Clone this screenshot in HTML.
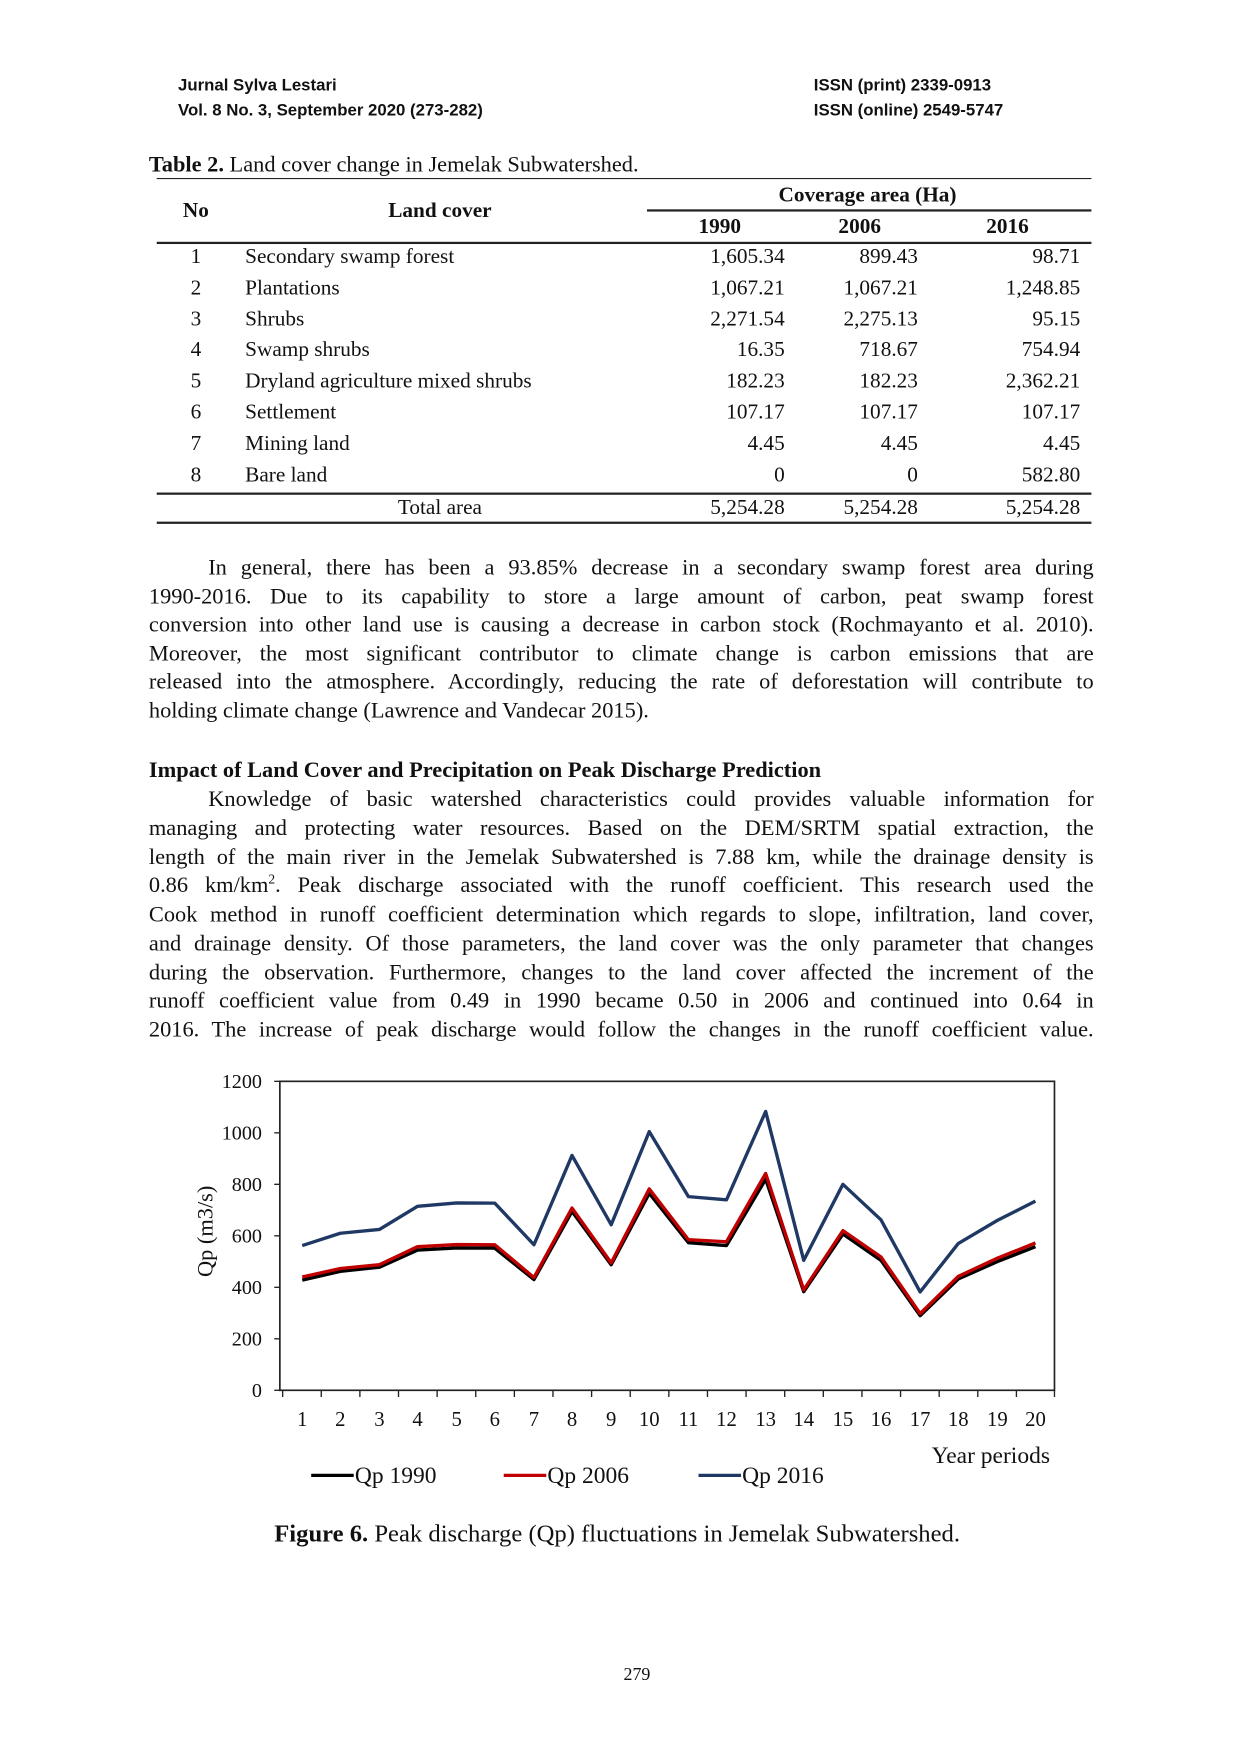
<!DOCTYPE html>
<html><head><meta charset="utf-8">
<style>
html,body{margin:0;padding:0;background:#fff;}
body{width:1240px;height:1754px;overflow:hidden;position:relative;}
#w{position:absolute;left:0;top:0;width:1108px;height:1567px;transform:scale(1.1194);transform-origin:0 0;font-family:"Liberation Serif",serif;color:#111;}
.a{position:absolute;white-space:nowrap;line-height:24px;height:24px;}
.h{font-family:"Liberation Sans",sans-serif;font-weight:bold;font-size:15px;line-height:20px;height:20px;}
.t{font-size:19px;}
.r{text-align:right;}
.c{text-align:center;}
.j{text-align:justify;text-align-last:justify;font-size:20px;left:133px;width:844px;}
.p{font-size:20px;}
.ln{position:absolute;background:#222;height:1px;}
</style></head><body><div id="w">
<div class="a h" style="left:159px;top:67px">Jurnal Sylva Lestari</div>
<div class="a h" style="left:159px;top:89px">Vol. 8 No. 3, September 2020 (273-282)</div>
<div class="a h" style="left:727px;top:67px">ISSN (print) 2339-0913</div>
<div class="a h" style="left:727px;top:89px">ISSN (online) 2549-5747</div>

<div class="a p" style="left:133px;top:135px"><b>Table 2.</b> Land cover change in Jemelak Subwatershed.</div>
<div class="ln" style="left:140px;width:835px;top:159px"></div>
<div class="ln" style="left:578px;width:397px;top:187px;height:1.5px"></div>
<div class="ln" style="left:140px;width:835px;top:216px;height:1.5px"></div>
<div class="ln" style="left:140px;width:835px;top:440px;height:2px"></div>
<div class="ln" style="left:140px;width:835px;top:466px;height:1.5px"></div>
<div class="a t" style="left:680px;width:190px;top:163px;text-align:center;font-weight:bold">Coverage area (Ha)</div>
<div class="a t" style="left:155px;width:40px;top:177px;text-align:center;font-weight:bold">No</div>
<div class="a t" style="left:293px;width:200px;top:177px;text-align:center;font-weight:bold">Land cover</div>
<div class="a t" style="left:603px;width:80px;top:191px;text-align:center;font-weight:bold">1990</div>
<div class="a t" style="left:728px;width:80px;top:191px;text-align:center;font-weight:bold">2006</div>
<div class="a t" style="left:860px;width:80px;top:191px;text-align:center;font-weight:bold">2016</div>

<div class="a t c" style="left:160px;width:30px;top:218px">1</div><div class="a t" style="left:219px;top:218px">Secondary swamp forest</div><div class="a t r" style="left:561px;width:140px;top:218px">1,605.34</div><div class="a t r" style="left:680px;width:140px;top:218px">899.43</div><div class="a t r" style="left:825px;width:140px;top:218px">98.71</div>
<div class="a t c" style="left:160px;width:30px;top:246px">2</div><div class="a t" style="left:219px;top:246px">Plantations</div><div class="a t r" style="left:561px;width:140px;top:246px">1,067.21</div><div class="a t r" style="left:680px;width:140px;top:246px">1,067.21</div><div class="a t r" style="left:825px;width:140px;top:246px">1,248.85</div>
<div class="a t c" style="left:160px;width:30px;top:274px">3</div><div class="a t" style="left:219px;top:274px">Shrubs</div><div class="a t r" style="left:561px;width:140px;top:274px">2,271.54</div><div class="a t r" style="left:680px;width:140px;top:274px">2,275.13</div><div class="a t r" style="left:825px;width:140px;top:274px">95.15</div>
<div class="a t c" style="left:160px;width:30px;top:301px">4</div><div class="a t" style="left:219px;top:301px">Swamp shrubs</div><div class="a t r" style="left:561px;width:140px;top:301px">16.35</div><div class="a t r" style="left:680px;width:140px;top:301px">718.67</div><div class="a t r" style="left:825px;width:140px;top:301px">754.94</div>
<div class="a t c" style="left:160px;width:30px;top:329px">5</div><div class="a t" style="left:219px;top:329px">Dryland agriculture mixed shrubs</div><div class="a t r" style="left:561px;width:140px;top:329px">182.23</div><div class="a t r" style="left:680px;width:140px;top:329px">182.23</div><div class="a t r" style="left:825px;width:140px;top:329px">2,362.21</div>
<div class="a t c" style="left:160px;width:30px;top:357px">6</div><div class="a t" style="left:219px;top:357px">Settlement</div><div class="a t r" style="left:561px;width:140px;top:357px">107.17</div><div class="a t r" style="left:680px;width:140px;top:357px">107.17</div><div class="a t r" style="left:825px;width:140px;top:357px">107.17</div>
<div class="a t c" style="left:160px;width:30px;top:385px">7</div><div class="a t" style="left:219px;top:385px">Mining land</div><div class="a t r" style="left:561px;width:140px;top:385px">4.45</div><div class="a t r" style="left:680px;width:140px;top:385px">4.45</div><div class="a t r" style="left:825px;width:140px;top:385px">4.45</div>
<div class="a t c" style="left:160px;width:30px;top:413px">8</div><div class="a t" style="left:219px;top:413px">Bare land</div><div class="a t r" style="left:561px;width:140px;top:413px">0</div><div class="a t r" style="left:680px;width:140px;top:413px">0</div><div class="a t r" style="left:825px;width:140px;top:413px">582.80</div>
<div class="a t c" style="left:293px;width:200px;top:442px">Total area</div><div class="a t r" style="left:561px;width:140px;top:442px">5,254.28</div><div class="a t r" style="left:680px;width:140px;top:442px">5,254.28</div><div class="a t r" style="left:825px;width:140px;top:442px">5,254.28</div>

<div class="a j" style="top:495px;left:186px;width:791px">In general, there has been a 93.85% decrease in a secondary swamp forest area during</div>
<div class="a j" style="top:521px">1990-2016. Due to its capability to store a large amount of carbon, peat swamp forest</div>
<div class="a j" style="top:546px">conversion into other land use is causing a decrease in carbon stock (Rochmayanto et al. 2010).</div>
<div class="a j" style="top:572px">Moreover, the most significant contributor to climate change is carbon emissions that are</div>
<div class="a j" style="top:597px">released into the atmosphere. Accordingly, reducing the rate of deforestation will contribute to</div>
<div class="a p" style="left:133px;top:623px">holding climate change (Lawrence and Vandecar 2015).</div>

<div class="a p" style="left:133px;top:676px;font-weight:bold">Impact of Land Cover and Precipitation on Peak Discharge Prediction</div>
<div class="a j" style="top:702px;left:186px;width:791px">Knowledge of basic watershed characteristics could provides valuable information for</div>
<div class="a j" style="top:728px">managing and protecting water resources. Based on the DEM/SRTM spatial extraction, the</div>
<div class="a j" style="top:754px">length of the main river in the Jemelak Subwatershed is 7.88 km, while the drainage density is</div>
<div class="a j" style="top:779px">0.86 km/km<sup style="font-size:12px;line-height:0">2</sup>. Peak discharge associated with the runoff coefficient. This research used the</div>
<div class="a j" style="top:805px">Cook method in runoff coefficient determination which regards to slope, infiltration, land cover,</div>
<div class="a j" style="top:831px">and drainage density. Of those parameters, the land cover was the only parameter that changes</div>
<div class="a j" style="top:857px">during the observation. Furthermore, changes to the land cover affected the increment of the</div>
<div class="a j" style="top:882px">runoff coefficient value from 0.49 in 1990 became 0.50 in 2006 and continued into 0.64 in</div>
<div class="a j" style="top:908px">2016. The increase of peak discharge would follow the changes in the runoff coefficient value.</div>

<svg style="position:absolute;left:0;top:0" width="1100" height="1556" font-family="Liberation Serif, serif">
<rect x="250" y="966" width="692" height="276" fill="none" stroke="#222" stroke-width="1.5"/>
<g stroke="#222" stroke-width="1.2">
<line x1="245" y1="966" x2="250" y2="966"/><line x1="245" y1="1012" x2="250" y2="1012"/><line x1="245" y1="1058" x2="250" y2="1058"/><line x1="245" y1="1104" x2="250" y2="1104"/><line x1="245" y1="1150" x2="250" y2="1150"/><line x1="245" y1="1196" x2="250" y2="1196"/><line x1="245" y1="1242" x2="250" y2="1242"/>
<path d="M252.5 1242v6M287 1242v6M321.5 1242v6M356 1242v6M390.5 1242v6M425 1242v6M459.5 1242v6M494 1242v6M528.5 1242v6M563 1242v6M597.5 1242v6M632 1242v6M666.5 1242v6M701 1242v6M735.5 1242v6M770 1242v6M804.5 1242v6M839 1242v6M873.5 1242v6M908 1242v6M942 1242v6"/>
</g>
<g font-size="18" text-anchor="end" fill="#111">
<text x="234" y="972">1200</text><text x="234" y="1018">1000</text><text x="234" y="1064">800</text><text x="234" y="1110">600</text><text x="234" y="1156">400</text><text x="234" y="1202">200</text><text x="234" y="1248">0</text>
</g>
<g font-size="18.5" text-anchor="middle" fill="#111">
<text x="270" y="1274">1</text><text x="304" y="1274">2</text><text x="339" y="1274">3</text><text x="373" y="1274">4</text><text x="408" y="1274">5</text><text x="442" y="1274">6</text><text x="477" y="1274">7</text><text x="511" y="1274">8</text><text x="546" y="1274">9</text><text x="580" y="1274">10</text><text x="615" y="1274">11</text><text x="649" y="1274">12</text><text x="684" y="1274">13</text><text x="718" y="1274">14</text><text x="753" y="1274">15</text><text x="787" y="1274">16</text><text x="822" y="1274">17</text><text x="856" y="1274">18</text><text x="891" y="1274">19</text><text x="925" y="1274">20</text>
</g>
<text x="190" y="1100" font-size="20" text-anchor="middle" transform="rotate(-90 190 1100)" fill="#111">Qp (m3/s)</text>
<text x="938" y="1307" font-size="21" text-anchor="end" fill="#111">Year periods</text>
<polyline fill="none" stroke="#1f3864" stroke-width="3" stroke-linejoin="round" points="270,1112.7 304,1101.7 339,1098.3 373,1077.6 408,1074.6 442,1074.8 477,1112 511,1032.2 546,1094.1 580,1010.9 615,1069 649,1071.8 684,992.9 718,1125.9 753,1058 787,1089.7 822,1154.1 856,1110.9 891,1090.2 925,1073"/>
<polyline fill="none" stroke="#000" stroke-width="3" stroke-linejoin="round" points="270,1143.6 304,1135.7 339,1132 373,1116.7 408,1114.8 442,1115 477,1143.1 511,1082.2 546,1129.8 580,1066.1 615,1110.2 649,1112.7 684,1053.4 718,1153.9 753,1102.4 787,1125.9 822,1175.3 856,1142.6 891,1127 925,1113.7"/>
<polyline fill="none" stroke="#c00000" stroke-width="3" stroke-linejoin="round" points="270,1140.8 304,1133.2 339,1129.8 373,1113.7 408,1111.8 442,1112 477,1141.3 511,1079.2 546,1128.2 580,1062.1 615,1107.5 649,1109.3 684,1048.3 718,1152.3 753,1099.4 787,1122.9 822,1173.5 856,1140.3 891,1124 925,1110.4"/>
<line x1="278" y1="1318" x2="316" y2="1318" stroke="#000" stroke-width="3"/>
<line x1="450" y1="1318" x2="488" y2="1318" stroke="#c00000" stroke-width="3"/>
<line x1="624" y1="1318" x2="662" y2="1318" stroke="#1f3864" stroke-width="3"/>
<g font-size="21" fill="#111"><text x="317" y="1325">Qp 1990</text><text x="489" y="1325">Qp 2006</text><text x="663" y="1325">Qp 2016</text></g>
</svg>
<div class="a" style="left:245px;top:1358px;font-size:22px"><b>Figure 6.</b> Peak discharge (Qp) fluctuations in Jemelak Subwatershed.</div>
<div class="a" style="left:549px;width:40px;top:1485px;font-size:16px;text-align:center">279</div>
</div></body></html>
